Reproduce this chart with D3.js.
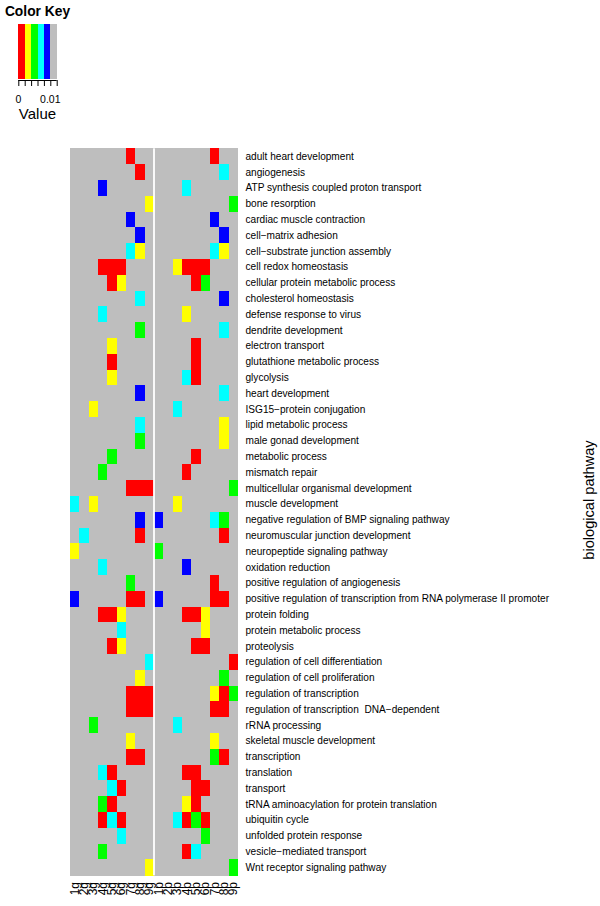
<!DOCTYPE html>
<html><head><meta charset="utf-8">
<script src="https://cdn.jsdelivr.net/npm/d3@7"></script>
<style>body{margin:0;background:#fff}svg{display:block;font-family:"Liberation Sans",Arial,Helvetica,sans-serif}</style>
</head><body>
<script>
// ---- data ----
const pathways = [
"adult heart development","angiogenesis","ATP synthesis coupled proton transport","bone resorption",
"cardiac muscle contraction","cell\u2212matrix adhesion","cell\u2212substrate junction assembly","cell redox homeostasis",
"cellular protein metabolic process","cholesterol homeostasis","defense response to virus","dendrite development",
"electron transport","glutathione metabolic process","glycolysis","heart development","ISG15\u2212protein conjugation",
"lipid metabolic process","male gonad development","metabolic process","mismatch repair",
"multicellular organismal development","muscle development","negative regulation of BMP signaling pathway",
"neuromuscular junction development","neuropeptide signaling pathway","oxidation reduction",
"positive regulation of angiogenesis","positive regulation of transcription from RNA polymerase II promoter",
"protein folding","protein metabolic process","proteolysis","regulation of cell differentiation",
"regulation of cell proliferation","regulation of transcription","regulation of transcription  DNA\u2212dependent",
"rRNA processing","skeletal muscle development","transcription","translation","transport",
"tRNA aminoacylation for protein translation","ubiquitin cycle","unfolded protein response",
"vesicle\u2212mediated transport","Wnt receptor signaling pathway"];
const samples = ["1g","2g","3g","4g","5g","6g","7g","8g","9g","1p","2p","3p","4p","5p","6p","7p","8p","9p"];
// key breaks (p-value) and colours
const keyBreaks = [0, 0.002, 0.004, 0.006, 0.008, 0.01, 0.012];
const keyColors = ["#FF0000","#FFFF00","#00FF00","#00FFFF","#0000FF","#BEBEBE"];
const keyLabelValues = [0, 0.01];
const keyLabelTexts = ["0", "0.01"];
// significant cells: [pathway index, sample index, p-value]; others are not significant
const R=0.001, Y=0.003, G=0.005, C=0.007, B=0.009;
const sigCells = [
[0,6,R],[0,15,R],
[1,7,R],[1,16,C],
[2,3,B],[2,12,C],
[3,8,Y],[3,17,G],
[4,6,B],[4,15,B],
[5,7,B],[5,16,B],
[6,6,C],[6,7,Y],[6,15,C],[6,16,Y],
[7,3,R],[7,4,R],[7,5,R],[7,11,Y],[7,12,R],[7,13,R],[7,14,R],
[8,4,R],[8,5,Y],[8,13,R],[8,14,G],
[9,7,C],[9,16,B],
[10,3,C],[10,12,Y],
[11,7,G],[11,16,C],
[12,4,Y],[12,13,R],
[13,4,R],[13,13,R],
[14,4,Y],[14,12,C],[14,13,R],
[15,7,B],[15,16,C],
[16,2,Y],[16,11,C],
[17,7,C],[17,16,Y],
[18,7,G],[18,16,Y],
[19,4,G],[19,13,R],
[20,3,G],[20,12,R],
[21,6,R],[21,7,R],[21,8,R],[21,17,G],
[22,0,C],[22,2,Y],[22,11,Y],
[23,7,B],[23,9,B],[23,15,C],[23,16,G],
[24,1,C],[24,7,R],[24,16,R],
[25,0,Y],[25,9,G],
[26,3,C],[26,12,B],
[27,6,G],[27,15,R],
[28,0,B],[28,6,R],[28,7,R],[28,9,B],[28,15,R],[28,16,R],
[29,3,R],[29,4,R],[29,5,Y],[29,12,R],[29,13,R],[29,14,Y],
[30,5,C],[30,14,Y],
[31,4,R],[31,5,Y],[31,13,R],[31,14,R],
[32,8,C],[32,17,R],
[33,7,Y],[33,16,G],
[34,6,R],[34,7,R],[34,8,R],[34,15,Y],[34,16,R],[34,17,G],
[35,6,R],[35,7,R],[35,8,R],[35,15,R],[35,16,R],
[36,2,G],[36,11,C],
[37,6,Y],[37,15,Y],
[38,6,R],[38,7,R],[38,15,G],[38,16,R],
[39,3,C],[39,4,R],[39,12,R],[39,13,R],
[40,4,C],[40,5,R],[40,13,R],[40,14,R],
[41,3,G],[41,4,R],[41,12,Y],[41,13,R],
[42,3,R],[42,4,C],[42,5,R],[42,11,C],[42,12,R],[42,13,G],[42,14,R],
[43,5,C],[43,14,G],
[44,3,G],[44,12,R],[44,13,C],
[45,8,Y],[45,17,G]
];
const notSigValue = 1;

// ---- build matrix ----
const cells = [];
const lookup = new Map(sigCells.map(d => [d[0]+"_"+d[1], d[2]]));
pathways.forEach((p,i) => samples.forEach((s,j) => {
  const v = lookup.has(i+"_"+j) ? lookup.get(i+"_"+j) : notSigValue;
  cells.push({pathway:p, sample:s, value:v});
}));

const W=600, H=906;
const svg = d3.select("body").append("svg").attr("width",W).attr("height",H);

const x = d3.scaleBand().domain(samples).range([70, 238]);
const y = d3.scaleBand().domain(pathways).range([148.3, 875.3]);
const color = d3.scaleThreshold().domain(keyBreaks.slice(1, 6)).range(keyColors);

svg.append("g").selectAll("rect").data(cells).join("rect")
  .attr("x", d => x(d.sample)).attr("y", d => y(d.pathway))
  .attr("width", x.bandwidth()+0.3).attr("height", y.bandwidth()+0.3)
  .attr("fill", d => color(d.value)).attr("shape-rendering","crispEdges");

// column separator between gene and protein groups
svg.append("rect").attr("x", x(samples[9]) - 0.9).attr("y", 148.3)
  .attr("width", 1.8).attr("height", 875.3-148.3).attr("fill","#fff");

// row labels
svg.append("g").selectAll("text").data(pathways).join("text")
  .attr("x", 245.5).attr("y", d => y(d) + y.bandwidth()/2)
  .attr("dominant-baseline","central").attr("font-size", 10.1).attr("fill","#000")
  .style("white-space","pre")
  .text(d => d);

// column labels
svg.append("g").selectAll("text").data(samples).join("text")
  .attr("transform", d => `translate(${x(d)+x.bandwidth()/2},882) rotate(-90)`)
  .attr("text-anchor","end").attr("dominant-baseline","central")
  .attr("font-size", 12).attr("fill","#000").text(d => d);

// axis title
svg.append("text").attr("transform","translate(589,500) rotate(-90)")
  .attr("text-anchor","middle").attr("dominant-baseline","central")
  .attr("font-size",14.6).text("biological pathway");

// ---- colour key ----
const kx = d3.scaleLinear().domain([keyBreaks[0], keyBreaks[keyBreaks.length-1]]).range([18.3, 56.7]);
const key = svg.append("g");
key.selectAll("rect").data(keyColors).join("rect")
  .attr("x", (d,i) => kx(keyBreaks[i])).attr("y", 23.5)
  .attr("width", (d,i) => kx(keyBreaks[i+1]) - kx(keyBreaks[i]) + 0.2).attr("height", 79.3-23.5)
  .attr("fill", d => d).attr("shape-rendering","crispEdges");
const axis = d3.axisBottom(kx).tickValues(keyBreaks).tickSize(6).tickFormat("");
const ag = key.append("g").attr("transform","translate(0,80)").call(axis);
ag.select(".domain").attr("d", `M${kx(keyBreaks[0])},0.5H${kx(keyBreaks[keyBreaks.length-1])}`).attr("stroke","#000");
ag.selectAll(".tick line").attr("stroke","#000");
ag.selectAll(".tick text").remove();
key.append("g").selectAll("text").data(keyLabelValues).join("text")
  .attr("x", d => kx(d)).attr("y", 102.8).attr("text-anchor","middle")
  .attr("font-size", 10.5).attr("fill","#000")
  .text((d,i) => keyLabelTexts[i]);
key.append("text").attr("x",37.5).attr("y",16).attr("text-anchor","middle")
  .attr("font-weight","bold").attr("font-size",13.8).text("Color Key");
key.append("text").attr("x",37.5).attr("y",118.6).attr("text-anchor","middle")
  .attr("font-size",15).text("Value");
</script>
</body></html>
